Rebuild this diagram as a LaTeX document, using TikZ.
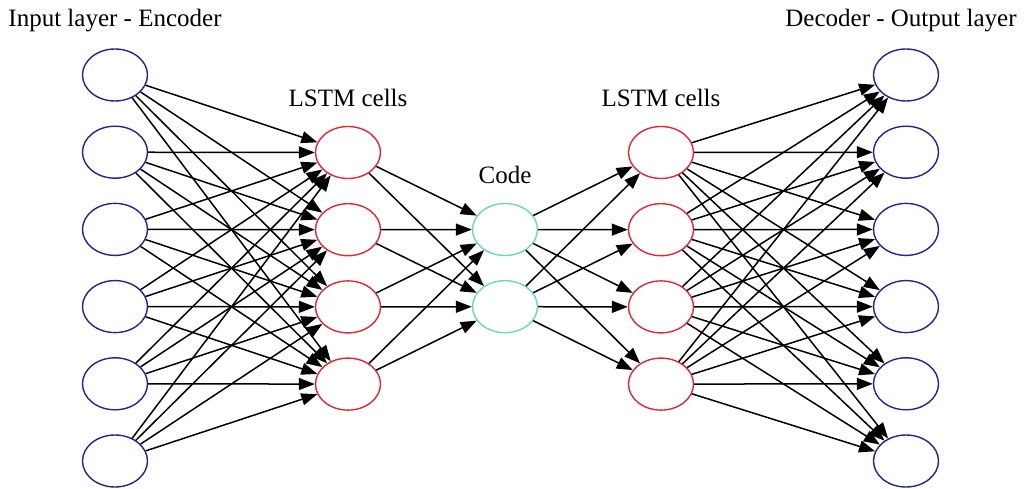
\documentclass[tikz,border=0pt]{standalone}
\usepackage{fontspec}
\setmainfont{Liberation Serif}
\usepackage{xcolor}
\usetikzlibrary{arrows.meta, positioning, calc, shapes.geometric}
\definecolor{inblue}{RGB}{35,35,140}
\definecolor{cellred}{RGB}{220,40,55}
\definecolor{codegreen}{RGB}{110,215,175}

\begin{document}
\begin{tikzpicture}[x=1pt, y=-1pt,
    unit/.style={ellipse, draw, line width=1.4pt, minimum width=65pt, minimum height=52pt, inner sep=0pt},
    inunit/.style={unit, draw=inblue},
    cell/.style={unit, draw=cellred},
    codeunit/.style={unit, draw=codegreen},
    conn/.style={line width=1.5pt, -{Triangle[length=16pt, width=12pt]}},
    caption/.style={anchor=base, font=\fontsize{25}{29}\selectfont}]
    \useasboundingbox (0,0) rectangle (1025,489);
    % layers
    \foreach \i in {1,...,6} {
        \node[inunit] (in\i) at (115, {75+77.2*(\i-1)}) {};
        \node[inunit] (out\i) at (906, {75+77.2*(\i-1)}) {};
    }
    \foreach \i in {1,...,4} {
        \node[cell] (l\i) at (348, {152.5+77.2*(\i-1)}) {};
        \node[cell] (r\i) at (661, {152.5+77.2*(\i-1)}) {};
    }
    \foreach \i in {1,2} \node[codeunit] (c\i) at (505, {229.5+77.2*(\i-1)}) {};
    % labels
    \node[caption] (tin) at (115, 27) {Input layer - Encoder};
    \node[caption] (tl) at (348, 107) {LSTM cells};
    \node[caption] (tc) at (505, 184) {Code};
    \node[caption] (tr) at (661, 107) {LSTM cells};
    \node[caption] (tout) at (901, 27) {Decoder - Output layer};
    % connections
    \foreach \i in {1,...,6} \foreach \j in {1,...,4} {
        \draw[conn] (in\i) -- (l\j);
        \draw[conn] (r\j) -- (out\i);
    }
    \foreach \j in {1,...,4} \foreach \k in {1,2} {
        \draw[conn] (l\j) -- (c\k);
        \draw[conn] (c\k) -- (r\j);
    }
\end{tikzpicture}
\end{document}
